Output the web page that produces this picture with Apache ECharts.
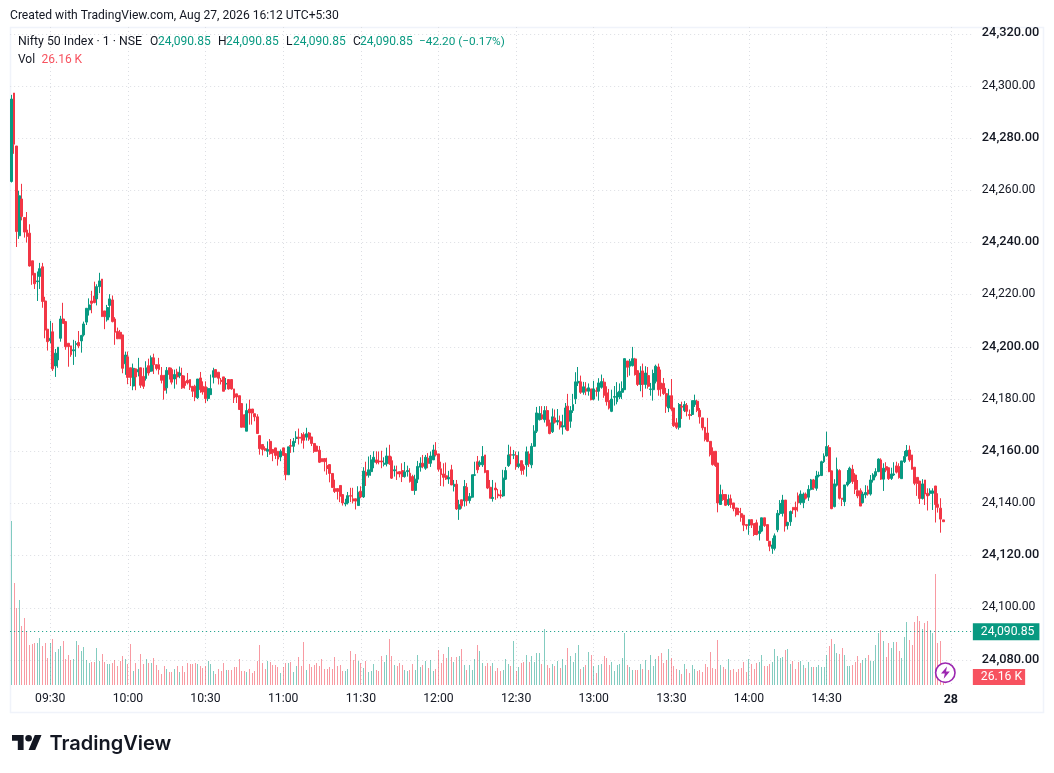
<!DOCTYPE html>
<html><head><meta charset="utf-8">
<style>html,body{margin:0;padding:0;background:#fff}#c{width:1054px;height:773px}</style>
<script src="https://cdn.jsdelivr.net/npm/echarts@6/dist/echarts.min.js"></script>
</head><body><div id="c"></div>
<script>
const opens=[24263.4,24297.3,24277,24242.6,24256.7,24249.6,24244.8,24243.6,24233,24228.2,
24225,24227,24230.7,24217.6,24206.8,24202.4,24205.8,24192.7,24195,24203.3,
24210.7,24209.7,24201.4,24200.4,24198.5,24201,24201.7,24202.3,24204.6,24209.5,
24214.2,24217.6,24219.5,24218.4,24223.1,24226,24213.8,24210.4,24215.9,24218,
24210.7,24205.9,24205.6,24204.6,24193.5,24196.2,24192,24185,24191.6,24190.4,
24192,24188.7,24187.9,24192.8,24190.7,24195.8,24193.2,24193.2,24189.1,24189.1,
24184.3,24192,24191.3,24187.7,24190.3,24189,24189,24186.8,24187.2,24187.5,
24184.9,24184.9,24180.5,24188.1,24184.9,24184.7,24180.2,24181.7,24188.4,24191.3,
24190.3,24187.2,24188.5,24185.8,24187.5,24187.5,24183.9,24182,24181.3,24178.3,
24174,24167.7,24176.2,24176.2,24174.4,24173.2,24166,24162.6,24161,24160,
24163.8,24160.7,24161.3,24160,24157.8,24161.3,24159.1,24151,24162.2,24161.9,
24164.9,24165.4,24165.4,24166.4,24165.4,24167,24165.5,24163,24162,24160.4,
24157.2,24157.2,24154.5,24154.9,24151.5,24145.7,24145.7,24146.9,24143.4,24139.8,
24140.2,24143,24141.8,24141.8,24139.2,24144.7,24142.5,24152,24150.8,24152.2,
24155.8,24156.7,24156.3,24156.3,24155,24155.2,24158.2,24156.4,24152.5,24152.1,
24152.2,24152.6,24150.3,24152.2,24151.6,24150.3,24145,24149.3,24153.9,24155.4,
24153.5,24157.3,24155.4,24156.7,24160.2,24159,24153.3,24151.3,24150.6,24149.4,
24152.9,24146.5,24147.4,24137.8,24141.4,24141,24146.2,24141.1,24142.4,24150.8,
24156,24154.8,24154.8,24158.6,24152.6,24146.2,24141.9,24145.9,24143.6,24143.3,
24142.9,24149.3,24154.5,24158.7,24158.5,24158.4,24154.2,24156.4,24154.2,24154.8,
24159,24154.8,24161.9,24167.7,24172.1,24174,24172.1,24175.6,24170.9,24167.5,
24172.8,24171.2,24171.3,24169.3,24169.3,24177.3,24171.5,24175.6,24180.1,24186.2,
24186.6,24182.6,24184,24183,24183.9,24180,24183.2,24183,24184.5,24186.5,
24182.4,24179.4,24175.3,24180.7,24179,24180.8,24182.6,24183.6,24194.6,24192.6,
24192.8,24195.4,24190.9,24185.6,24190.8,24185.6,24189,24183.7,24183.6,24186.8,
24192.3,24186.2,24186,24182.1,24176.6,24181.3,24176.6,24170.9,24169.2,24177.3,
24175.6,24177.6,24174.1,24174.1,24177.9,24179.2,24175.7,24172.8,24169.2,24167,
24163.8,24160,24160,24155.5,24139.6,24143.4,24143.4,24139.6,24141.8,24140.2,
24138.3,24136.9,24136.1,24135.5,24131.9,24131.5,24133.8,24132.3,24132.6,24128.5,
24129.4,24134.5,24131.9,24125.5,24122.8,24122.8,24129.9,24136.2,24136.2,24141.3,
24131.6,24133,24138.5,24138.5,24142.9,24140.3,24140.3,24143.6,24142.4,24145.4,
24149,24145.8,24150.5,24150.7,24156,24158.2,24161.4,24152.5,24138.8,24147,
24152.6,24142,24140.7,24147.1,24148,24153.1,24150.9,24144.9,24144.9,24140.3,
24143.3,24145.2,24143.6,24149,24150.7,24152.2,24156.7,24149.3,24154.1,24153.7,
24149.6,24150.9,24154.4,24154.1,24149.5,24156,24158.2,24160.5,24158.6,24153.9,
24150,24148.6,24141.9,24149,24143.9,24143.9,24143.9,24146.7,24139.6,24138.2,24133.7];
const closes=[24295,24277.7,24244.2,24257.9,24250,24244,24242.3,24231,24227.6,24224.2,
24225.3,24230,24217.4,24206.5,24202,24203.3,24191.6,24197.6,24199.9,24210.7,
24209,24200.1,24200.1,24197,24198.9,24201.2,24200.4,24204.4,24208.8,24214.8,
24216.1,24216.7,24217,24223.1,24225.3,24211.6,24211.6,24215.1,24218.4,24209.7,
24205.6,24203.1,24203.1,24191.8,24196.9,24188.3,24188.3,24191.8,24188.5,24191.3,
24185.3,24184.9,24192,24190,24195.8,24193.2,24191.7,24191.3,24187.2,24183.4,
24191,24189.4,24186.5,24189.4,24188.5,24190,24184.3,24185.2,24186.2,24184.5,
24183,24180.8,24187.7,24183.6,24182.7,24180.2,24184,24184,24190.9,24188.4,
24188,24186.8,24183,24186,24183.9,24183.9,24180.4,24180.8,24176,24169.2,
24169.2,24175.6,24174.7,24174.7,24173.2,24166.8,24161,24160.7,24160.4,24160.7,
24159.1,24159.4,24158.4,24157,24160,24158.4,24151,24161.7,24161.9,24163.8,
24165.4,24165,24165,24164.2,24166.7,24164.7,24163,24160,24160,24155.8,
24156,24156,24153.4,24151.5,24146.1,24144.6,24144.6,24142.8,24140.2,24140.2,
24143,24142.8,24140.9,24140.9,24144.3,24142.5,24152.4,24150.6,24152.9,24156.7,
24157.7,24155.7,24155.9,24155.9,24155.4,24158.2,24155.2,24149.7,24152.9,24151.3,
24151.3,24150.3,24152.1,24152.6,24148.4,24145,24149.3,24154.2,24155.4,24154.2,
24157.7,24155.4,24158.2,24160.5,24158.6,24153.1,24151,24150,24149.4,24150,
24147.1,24147.4,24137.9,24139.5,24139.1,24146.5,24141,24142.7,24151,24151,
24152.9,24155.7,24158,24151.9,24145.9,24142,24142.3,24145.2,24142.9,24142.9,
24149.7,24152.6,24158.6,24158.5,24158.7,24154.2,24155.2,24152.6,24153.1,24159.8,
24155.2,24161.9,24167.7,24174.7,24174.5,24172.4,24175.6,24169.8,24166.8,24173.2,
24171.1,24171.8,24169.3,24169.8,24176.6,24168,24175.6,24177.9,24186.6,24186.8,
24182.6,24184.7,24183,24184.3,24179.8,24183.9,24183,24186.2,24186.7,24181.5,
24179,24176.6,24180,24181,24182.6,24183,24184,24195.5,24192.2,24194.5,
24195.5,24189.4,24185.6,24190,24185.6,24190,24184.9,24183.9,24189.8,24192.6,
24183.6,24183.9,24182.1,24177.3,24181.3,24176.2,24169.8,24169.2,24177.9,24176.9,
24177.9,24175.3,24173.7,24179.4,24179.4,24175.7,24173.2,24169,24164.5,24163.8,
24158.7,24154.9,24154.5,24140.2,24143.4,24141.5,24139.3,24141.5,24139.6,24138,
24135.7,24136.6,24134.7,24131.7,24131.5,24133.8,24131.7,24128.1,24128.1,24129.4,
24134.5,24131.5,24125.8,24123.6,24124.1,24127.6,24136.2,24140,24141.3,24131.4,
24132.7,24136.9,24137.5,24137.5,24140.3,24143.6,24143.6,24142,24145.4,24149,
24146,24150.5,24150.9,24156,24158.2,24161.8,24152.2,24138,24147.5,24153.1,
24142,24141.6,24147.1,24148.2,24153.5,24148.4,24145.4,24142.9,24139,24143.6,
24144.2,24143.6,24149,24150.9,24152.2,24157,24149.3,24153.5,24152.8,24149.5,
24151.3,24151.3,24152,24150,24156.3,24158,24160.3,24156.7,24153.1,24147.7,
24147.7,24141.9,24147.5,24143.6,24142.9,24144.8,24144.8,24139.6,24138.5,24134,24133];
const highs=[24296.6,24297.3,24277,24259.8,24262.5,24249.6,24251.7,24247,24233,24228.2,
24228.9,24232.2,24232.2,24219.2,24206.8,24210,24209.2,24199.2,24199.9,24211.9,
24216.9,24209.7,24201.4,24200.4,24202.7,24202.3,24206.1,24204.6,24209.7,24214.8,
24218.6,24221.5,24225,24224,24228.4,24226,24213.8,24216.1,24220.2,24219.7,
24211.4,24207.4,24206.5,24204.6,24198.2,24198.2,24192,24193.6,24191.6,24195.8,
24192,24192,24194.5,24195.5,24196.7,24197.4,24193.2,24195.8,24192.3,24189.1,
24192.3,24192,24192,24191.3,24191.6,24192.5,24192,24189,24190,24187.5,
24184.9,24185.5,24187.7,24190.4,24186.8,24186.8,24184.5,24189.4,24192,24191.3,
24190.3,24188.1,24188.5,24188.1,24187.5,24187.5,24183.9,24182,24181.3,24178.3,
24174,24178.3,24179.8,24176.2,24174.4,24174.2,24166,24162.6,24161.9,24163.8,
24164.7,24160.7,24161.3,24160,24160.7,24161.3,24159.1,24161.7,24164.7,24165.1,
24167.7,24168.7,24167,24167.3,24169,24167.4,24165.5,24163,24162,24162,
24157.2,24157.2,24157.5,24154.9,24151.5,24149.1,24145.7,24146.9,24143.4,24141.8,
24144.4,24146,24146,24141.8,24146.6,24146.6,24153.9,24156,24158,24158.6,
24160,24160,24159.9,24160.2,24157.7,24161.4,24162.5,24158,24154.5,24154.5,
24152.2,24155.4,24155.9,24154.5,24153.5,24151,24151,24156.3,24157.7,24158.6,
24158.6,24159.3,24159.9,24162.5,24163.5,24159,24156,24155.4,24155.7,24152.5,
24154.8,24149,24149,24141.4,24141.4,24149,24147.8,24144,24151,24156,
24158.2,24156.5,24162,24158.6,24152.6,24149,24149,24148,24145.5,24145.2,
24152.9,24154,24162.5,24161.8,24160.5,24159.9,24159.9,24156.4,24155,24161.8,
24160,24163.1,24170,24177,24177.3,24177.3,24177.3,24177.3,24172.1,24176.4,
24176,24176.2,24173.7,24174,24178.5,24182,24177.3,24182,24190.3,24192.3,
24189,24186.6,24186.5,24186,24183.9,24187,24184.5,24188,24189.4,24188,
24184.9,24183.9,24183.6,24185,24186.5,24186,24186.8,24195.5,24194.6,24195.4,
24200,24195.8,24190.9,24192.6,24193.6,24192.6,24192.3,24186.2,24191.3,24193.2,
24193.6,24191.3,24188.1,24184.3,24183.9,24187.7,24176.6,24172.7,24178.5,24179,
24179.2,24178.5,24176,24179.4,24181.7,24179.8,24176.6,24172.8,24169.2,24172.8,
24163.8,24161.5,24160,24155.5,24147.2,24145.3,24143.4,24143.4,24143.4,24140.2,
24138.3,24138.3,24138.3,24135.5,24131.9,24133.8,24133.8,24132.3,24133.8,24131.5,
24134.5,24134.5,24131.9,24125.5,24126.7,24128.5,24137.5,24141.3,24143.3,24141.3,
24133,24137.3,24138.5,24140.7,24144.2,24145,24144.2,24144.2,24147,24149.4,
24149.4,24152.5,24152.2,24156.4,24159.2,24167.5,24162.4,24152.5,24149.3,24157.6,
24153.1,24142,24147.1,24152.8,24154.1,24154.8,24151.6,24149,24145.8,24144.5,
24147,24146.8,24150.9,24151.6,24153.5,24157.3,24157.3,24155.4,24155.8,24153.7,
24153.7,24155.8,24156,24155.4,24156.3,24160.1,24162.4,24162.2,24158.6,24153.9,
24150,24148.6,24149.3,24149,24145.8,24145.8,24145.8,24146.7,24143.9,24142,24133.7];
const lows=[24263,24274,24238.3,24241.4,24248.5,24241.9,24240,24230.8,24223.8,24222.2,
24217.6,24222.2,24215,24203.3,24198.6,24201.4,24190.8,24188.5,24192,24202,
24209,24198.9,24192.4,24196.2,24193.1,24196.2,24199.5,24197.8,24204,24208.4,
24212,24212.9,24216.7,24215.9,24220.6,24211.6,24206.8,24209.7,24211.3,24209.4,
24200.8,24203.1,24203,24189.9,24189.3,24185.7,24185,24183.4,24183.4,24188.7,
24184.3,24183.9,24187.1,24189,24190.4,24189.6,24191,24189.4,24186,24179.8,
24182.1,24187.5,24185.6,24184,24185.6,24188,24183.9,24184,24185.6,24183.5,
24180.8,24179.2,24180,24182.4,24181.7,24178.5,24179.2,24181.7,24186,24188.4,
24185.6,24185.6,24183,24183.6,24183.6,24183.6,24178.5,24178.5,24176,24169.2,
24169.2,24167.7,24170.2,24170.2,24171.5,24166.7,24158.7,24158.4,24160,24157.8,
24158.7,24156.2,24157,24154.5,24156.2,24158.4,24148.9,24151,24159.4,24159.6,
24163.2,24162.6,24163,24161,24164.1,24164,24162,24159.4,24160,24155.5,
24156,24152.3,24151,24148.1,24146.1,24144,24141.5,24140.5,24139.2,24138.9,
24139.6,24140.5,24140,24137.7,24139.2,24142,24142.1,24146.7,24149.9,24150.6,
24153.5,24155,24155,24153.5,24154.2,24154.2,24154.8,24149.4,24150.3,24149,
24150,24148.2,24149.9,24150.3,24148,24145,24143.3,24147.8,24152.2,24153.5,
24152.9,24153.5,24154,24156.7,24158,24152.2,24146.7,24146.5,24149,24147.5,
24147,24144.6,24137.5,24133.7,24138,24138.8,24139.1,24140,24142,24150.5,
24151.6,24154,24154,24151.6,24145.5,24142,24140.7,24141.4,24142,24141.9,
24142.5,24149,24154,24155,24157,24152.9,24153.5,24151,24151,24150.3,
24154,24153.5,24161.8,24167,24171.8,24172,24171,24169.5,24166.5,24167,
24170.6,24170,24168.3,24166.4,24168.3,24167.7,24169,24174.7,24178.1,24185,
24182,24181.7,24181.5,24181.3,24179.5,24179.5,24181,24179.4,24184,24180.5,
24177.5,24176,24175,24177.5,24178,24180,24180,24183.6,24188.4,24189,
24192.5,24189,24185,24183,24180.7,24184,24184,24181.3,24179.4,24186,
24181.3,24181,24181.6,24174.7,24175,24175.5,24169.3,24168.5,24168.3,24172.4,
24175,24173.4,24172.1,24173.5,24177,24175,24170.6,24168,24163.8,24163.5,
24158,24154.5,24154,24136.6,24139.5,24141,24139,24139,24138.3,24137,
24135,24135.5,24133,24129.4,24130,24128,24130.6,24127.5,24127.8,24125.8,
24129,24131,24125.8,24121.7,24120.7,24122,24129,24135.5,24135,24129.2,
24130,24131.4,24136,24134.7,24136.9,24139.5,24138.2,24141.5,24141,24145,
24145.2,24144.9,24150,24150.5,24155.5,24158,24152,24137.8,24138.5,24146.5,
24141.5,24139,24139,24146.5,24147.5,24147.5,24143.6,24142,24139,24140,
24142,24143,24143,24148,24150,24152,24149,24144.8,24152,24149,
24149,24150.5,24151.5,24149.5,24149.5,24155.5,24158,24156,24153,24147,
24142.9,24139.8,24141.5,24139.4,24137.3,24143,24137.5,24132.7,24136.5,24128.8,24133];
const volumes=[536,334,251,278,193,218,178,131,134,137,
137,154,128,137,88,137,150,108,118,128,
144,85,98,82,85,144,131,111,124,82,
72,75,75,121,78,101,75,69,69,72,
82,62,78,95,85,69,134,46,72,52,
101,69,85,72,72,88,65,49,36,62,
52,43,43,52,62,43,62,43,72,69,
69,72,69,62,56,62,78,69,46,36,
52,46,72,49,49,49,59,59,85,46,
46,43,52,39,46,78,131,72,52,78,
75,65,65,59,39,59,72,72,75,43,
62,92,62,141,49,69,59,65,72,62,
85,52,52,59,52,92,62,65,46,46,
52,111,82,101,78,72,56,78,43,46,
69,49,46,95,75,98,150,95,65,62,
72,65,49,46,49,69,49,98,59,65,
78,56,82,46,52,114,72,101,88,124,
92,75,92,95,118,65,49,65,49,85,
131,111,72,62,72,62,72,46,56,46,
49,85,69,62,144,46,59,72,75,98,
75,95,75,105,105,69,183,65,56,69,
62,78,56,85,65,121,95,75,105,131,
52,59,65,108,98,62,39,65,69,95,
88,65,75,46,65,69,88,170,65,59,
49,49,49,69,52,82,49,98,62,85,
95,105,72,82,118,88,62,52,49,36,
69,52,39,65,52,46,49,43,69,59,
108,56,52,147,65,59,52,85,49,52,
43,52,56,75,43,85,69,52,72,75,
98,62,62,69,75,118,95,88,92,114,
118,69,78,52,75,78,65,56,75,59,
59,59,65,59,59,98,128,150,134,105,
101,121,98,62,62,65,75,95,72,82,
88,98,78,78,131,170,180,144,92,137,
121,141,141,111,88,157,206,147,131,206,
226,209,183,203,209,180,170,363,137,144,
26.16];
const tickLabels=['09:30','10:00','10:30','11:00','11:30','12:00','12:30','13:00','13:30','14:00','14:30','28'];
const dayMarkIndex=363, bandCount=372;
const categories=[];
for(let i=0;i<bandCount;i++){const m=9*60+15+i;categories.push(i===dayMarkIndex?'28':String(Math.floor(m/60)).padStart(2,'0')+':'+String(m%60).padStart(2,'0'));}
const lastPrice=24090.85, lastVolume=26.16;
const symbolText='Nifty 50 Index · 1 · NSE', changeText='−42.20 (−0.17%)', createdText='Created with TradingView.com, Aug 27, 2026 16:12 UTC+5:30';
const UP='#089981',DOWN='#f23645',INK='#131722',GRID='#dcdee3',FONT='Roboto';
const fmt=v=>Number(v).toLocaleString('en-US',{minimumFractionDigits:2,maximumFractionDigits:2});
const isTick=(i,v)=>tickLabels.includes(categories[i]);
const dots=[1,3];
const left=10.15,right=81.15;
const chart=echarts.init(document.getElementById('c'),null,{renderer:'canvas'});
const txt=(x,y,text,fill,font)=>({type:'text',x,y,z:50,style:{text,fill:fill||INK,font:font||('12px '+FONT),textVerticalAlign:'middle'}});
const price=fmt(lastPrice);
chart.setOption({
 animation:false,backgroundColor:'#fff',
 grid:[{left,right,top:7.7,bottom:60.8},{left,right,top:27,bottom:88}],
 xAxis:[
  {type:'category',gridIndex:0,data:categories,show:false},
  {type:'category',gridIndex:1,data:categories,
   axisLine:{show:false},axisTick:{show:false},
   axisLabel:{interval:isTick,margin:8,color:INK,fontFamily:FONT,fontSize:12.2,hideOverlap:false,
     formatter:v=>v==='28'?'{b|28}':v,rich:{b:{fontWeight:'bold',fontFamily:FONT,fontSize:12.5,color:INK}}},
   splitLine:{show:true,interval:isTick,alignWithLabel:true,lineStyle:{color:GRID,type:dots,width:1}}}],
 yAxis:[
  {type:'value',gridIndex:0,min:24060,max:24330,interval:20,position:'right',
   axisLine:{show:false},axisTick:{show:false},
   axisLabel:{showMinLabel:false,showMaxLabel:false,margin:9,color:INK,fontFamily:FONT,fontSize:12.2,padding:[0,0,1,0],
     formatter:v=>((24320-v)%40===0?'{s|'+fmt(v)+'}':fmt(v)),
     rich:{s:{fontFamily:FONT,fontSize:12.8,fontWeight:500,color:INK}}},
   splitLine:{show:true,showMinLine:false,showMaxLine:false,lineStyle:{color:GRID,type:dots,width:1}}},
  {type:'value',gridIndex:1,min:0,max:2151.66,show:false,splitLine:{show:false}}],
 series:[
  {type:'custom',name:'Vol',xAxisIndex:1,yAxisIndex:1,silent:true,z:2,clip:false,
   encode:{x:0,y:1},
   data:volumes.map((v,i)=>({value:[i,v],itemStyle:{color:closes[i]>=opens[i]?'rgba(8,153,129,0.5)':'rgba(242,54,69,0.5)'}})),
   renderItem:(params,api)=>{
     const top=api.coord([api.value(0),api.value(1)]),base=api.coord([api.value(0),0]);
     const y=Math.round(top[1]),b=Math.round(base[1]);
     return {type:'rect',shape:{x:Math.round(top[0]-0.5),y,width:1,height:b-y},style:{fill:api.visual('color')}};
   },
   markLine:{silent:true,symbol:'none',z:20,lineStyle:{color:'transparent'},
    data:[{yAxis:lastVolume}],
    label:{position:'end',distance:0,formatter:()=>fmt(lastVolume)+' K',color:'#fff',backgroundColor:'#f7525f',fontFamily:FONT,fontSize:12.2,padding:[2,3,2,8]}}},
  {type:'candlestick',xAxisIndex:0,yAxisIndex:0,barWidth:2.4,silent:true,z:5,
   data:opens.map((o,i)=>[o,closes[i],lows[i],highs[i]]),
   itemStyle:{color:UP,color0:DOWN,borderColor:UP,borderColor0:DOWN,borderWidth:1},
   markLine:{silent:true,symbol:'none',z:20,lineStyle:{color:UP,type:dots,width:1},
    data:[{yAxis:lastPrice}],
    label:{position:'end',distance:0,formatter:()=>price,color:'#fff',backgroundColor:UP,fontFamily:FONT,fontSize:12.2,padding:[3,5,2,8]}}}],
 graphic:{elements:[
  {type:'rect',z:0,shape:{x:10.5,y:27.5,width:1033,height:685},style:{fill:'none',stroke:'#f0f3fa',lineWidth:1.5}},
  txt(10,16,createdText,INK,'12.12px '+FONT),
  txt(18,42,symbolText,INK,'12.3px '+FONT),
  txt(150,42,'O'),txt(158,42,price,UP),
  txt(218,42,'H'),txt(226,42,price,UP),
  txt(286,42,'L'),txt(293,42,price,UP),
  txt(353,42,'C'),txt(360,42,price,UP),
  txt(419,42,changeText,UP,'11.8px '+FONT),
  txt(18,59.5,'Vol'),txt(41.5,59.5,fmt(lastVolume)+' K','#f7525f'),
  {type:'circle',z:60,shape:{cx:945.3,cy:672.7,r:9.7},style:{fill:'#fff',stroke:'#9c27b0',lineWidth:1.6}},
  {type:'polygon',z:61,shape:{points:[[947,666.5],[941,673.6],[944.8,673.6],[943.7,678.8],[949.8,671.6],[946,671.6]]},style:{fill:'#9c27b0'}},
  {type:'polygon',z:50,shape:{points:[[23.6,750],[17.8,750],[17.8,740.8],[12,740.8],[12,735],[23.6,735]]},style:{fill:'#131722'}},
  {type:'polygon',z:50,shape:{points:[[35.2,750],[28.6,750],[34.8,735],[41.5,735]]},style:{fill:'#131722'}},
  {type:'circle',z:50,shape:{cx:28.6,cy:738.3,r:3.3},style:{fill:'#131722'}},
  {type:'text',z:50,x:49.5,y:744,style:{text:'TradingView',fill:'#131722',font:'600 20px Inter',textVerticalAlign:'middle'}}
 ]}
});
</script></body></html>
